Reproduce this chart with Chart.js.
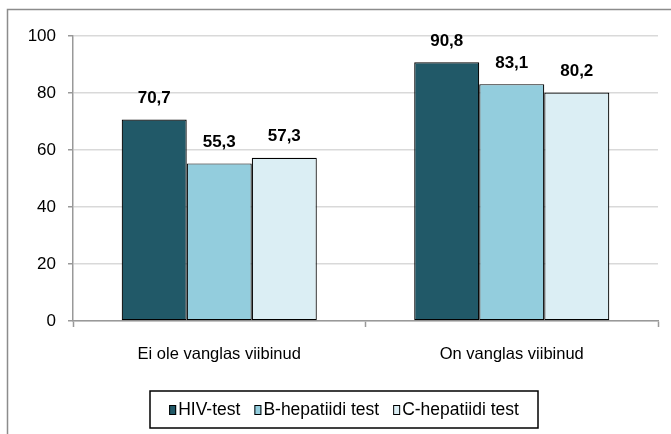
<!DOCTYPE html>
<html>
<head>
<meta charset="utf-8">
<script src="https://cdn.jsdelivr.net/npm/chart.js@4"></script>
<style>
    html, body { margin: 0; padding: 0; background: #fff; }
    #wrap { width: 671px; height: 434px; }
</style>
</head>
<body>
<div id="wrap"><canvas id="chart" width="671" height="434"></canvas></div>
<script>
const categories = ['Ei ole vanglas viibinud', 'On vanglas viibinud'];
const seriesNames = ['HIV-test', 'B-hepatiidi test', 'C-hepatiidi test'];
const hivValues = [70.7, 90.8];
const hepBValues = [55.3, 83.1];
const hepCValues = [57.3, 80.2];
const seriesColors = ['#215968', '#93cddd', '#dbeef4'];

const FONT = '"Liberation Sans Narrow", "Liberation Sans", Arial, sans-serif';

function formatValue(v) {
    return v.toFixed(1).replace('.', ',');
}

// value labels over bars
const valueLabels = {
    id: 'valueLabels',
    afterDatasetsDraw(chart) {
        const ctx = chart.ctx;
        ctx.save();
        ctx.font = 'bold 17px ' + FONT;
        ctx.fillStyle = '#000';
        ctx.textAlign = 'center';
        ctx.textBaseline = 'middle';
        chart.data.datasets.forEach((ds, i) => {
            chart.getDatasetMeta(i).data.forEach((bar, j) => {
                ctx.fillText(formatValue(ds.data[j]), bar.x, bar.y - 21);
            });
        });
        ctx.restore();
    }
};

// outer frame and boxed legend
const frame = {
    id: 'frame',
    beforeDraw(chart) {
        const ctx = chart.ctx;
        ctx.save();
        ctx.fillStyle = '#fff';
        ctx.fillRect(0, 0, chart.width, chart.height);
        ctx.strokeStyle = '#8c8c8c';
        ctx.lineWidth = 1.5;
        ctx.beginPath();
        ctx.moveTo(7.5, chart.height + 2);
        ctx.lineTo(7.5, 9.5);
        ctx.lineTo(chart.width + 2, 9.5);
        ctx.stroke();
        ctx.restore();
    },
    afterDraw(chart) {
        const ctx = chart.ctx;
        ctx.save();
        const boxX = 150, boxY = 391, boxW = 388, boxH = 37;
        ctx.strokeStyle = '#000';
        ctx.lineWidth = 1.5;
        ctx.strokeRect(boxX, boxY, boxW, boxH);

        ctx.font = '17.5px ' + FONT;
        ctx.textBaseline = 'middle';
        const gap = 14, swatch = 7, swGap = 2;
        const widths = seriesNames.map(n => ctx.measureText(n).width);
        let total = widths.reduce((a, b) => a + b, 0) + seriesNames.length * (swatch + swGap) + gap * (seriesNames.length - 1);
        let x = boxX + (boxW - total) / 2;
        const cy = boxY + boxH / 2 + 0.5;
        seriesNames.forEach((name, i) => {
            ctx.fillStyle = seriesColors[i];
            ctx.fillRect(x, cy - 5, swatch, 10);
            ctx.strokeStyle = '#000';
            ctx.lineWidth = 1;
            ctx.strokeRect(x + 0.5, cy - 4.5, swatch - 1, 9);
            x += swatch + swGap;
            ctx.fillStyle = '#000';
            ctx.fillText(name, x, cy);
            x += widths[i] + gap;
        });
        ctx.restore();
    }
};

const datasets = [hivValues, hepBValues, hepCValues].map((vals, i) => ({
    label: seriesNames[i],
    data: vals,
    backgroundColor: seriesColors[i],
    borderColor: '#000',
    borderWidth: 1.2,
    borderSkipped: false,
    categoryPercentage: 0.667,
    barPercentage: 1
}));

new Chart(document.getElementById('chart'), {
    type: 'bar',
    data: {
        labels: categories,
        datasets: datasets
    },
    options: {
        responsive: false,
        animation: false,
        layout: {
            padding: { top: 36, right: 13, bottom: 0, left: 0 }
        },
        plugins: {
            legend: { display: false },
            tooltip: { enabled: false }
        },
        scales: {
            x: {
                afterFit: (scale) => { scale.height = 113; },
                grid: {
                    offset: true,
                    drawOnChartArea: false,
                    tickLength: 6,
                    tickColor: '#999',
                    tickWidth: 1.5
                },
                border: { color: '#999', width: 1.5 },
                ticks: {
                    color: '#000',
                    padding: 18,
                    font: { family: FONT, size: 16.5 }
                }
            },
            y: {
                min: 0,
                max: 100,
                afterFit: (scale) => { scale.width = 73; },
                grid: {
                    color: '#d9d9d9',
                    lineWidth: 1.5,
                    tickLength: 5,
                    tickColor: '#999',
                    tickWidth: 1.5
                },
                border: { color: '#999', width: 1.5 },
                ticks: {
                    stepSize: 20,
                    color: '#000',
                    padding: 12,
                    font: { family: FONT, size: 17 }
                }
            }
        }
    },
    plugins: [frame, valueLabels]
});
</script>
</body>
</html>
